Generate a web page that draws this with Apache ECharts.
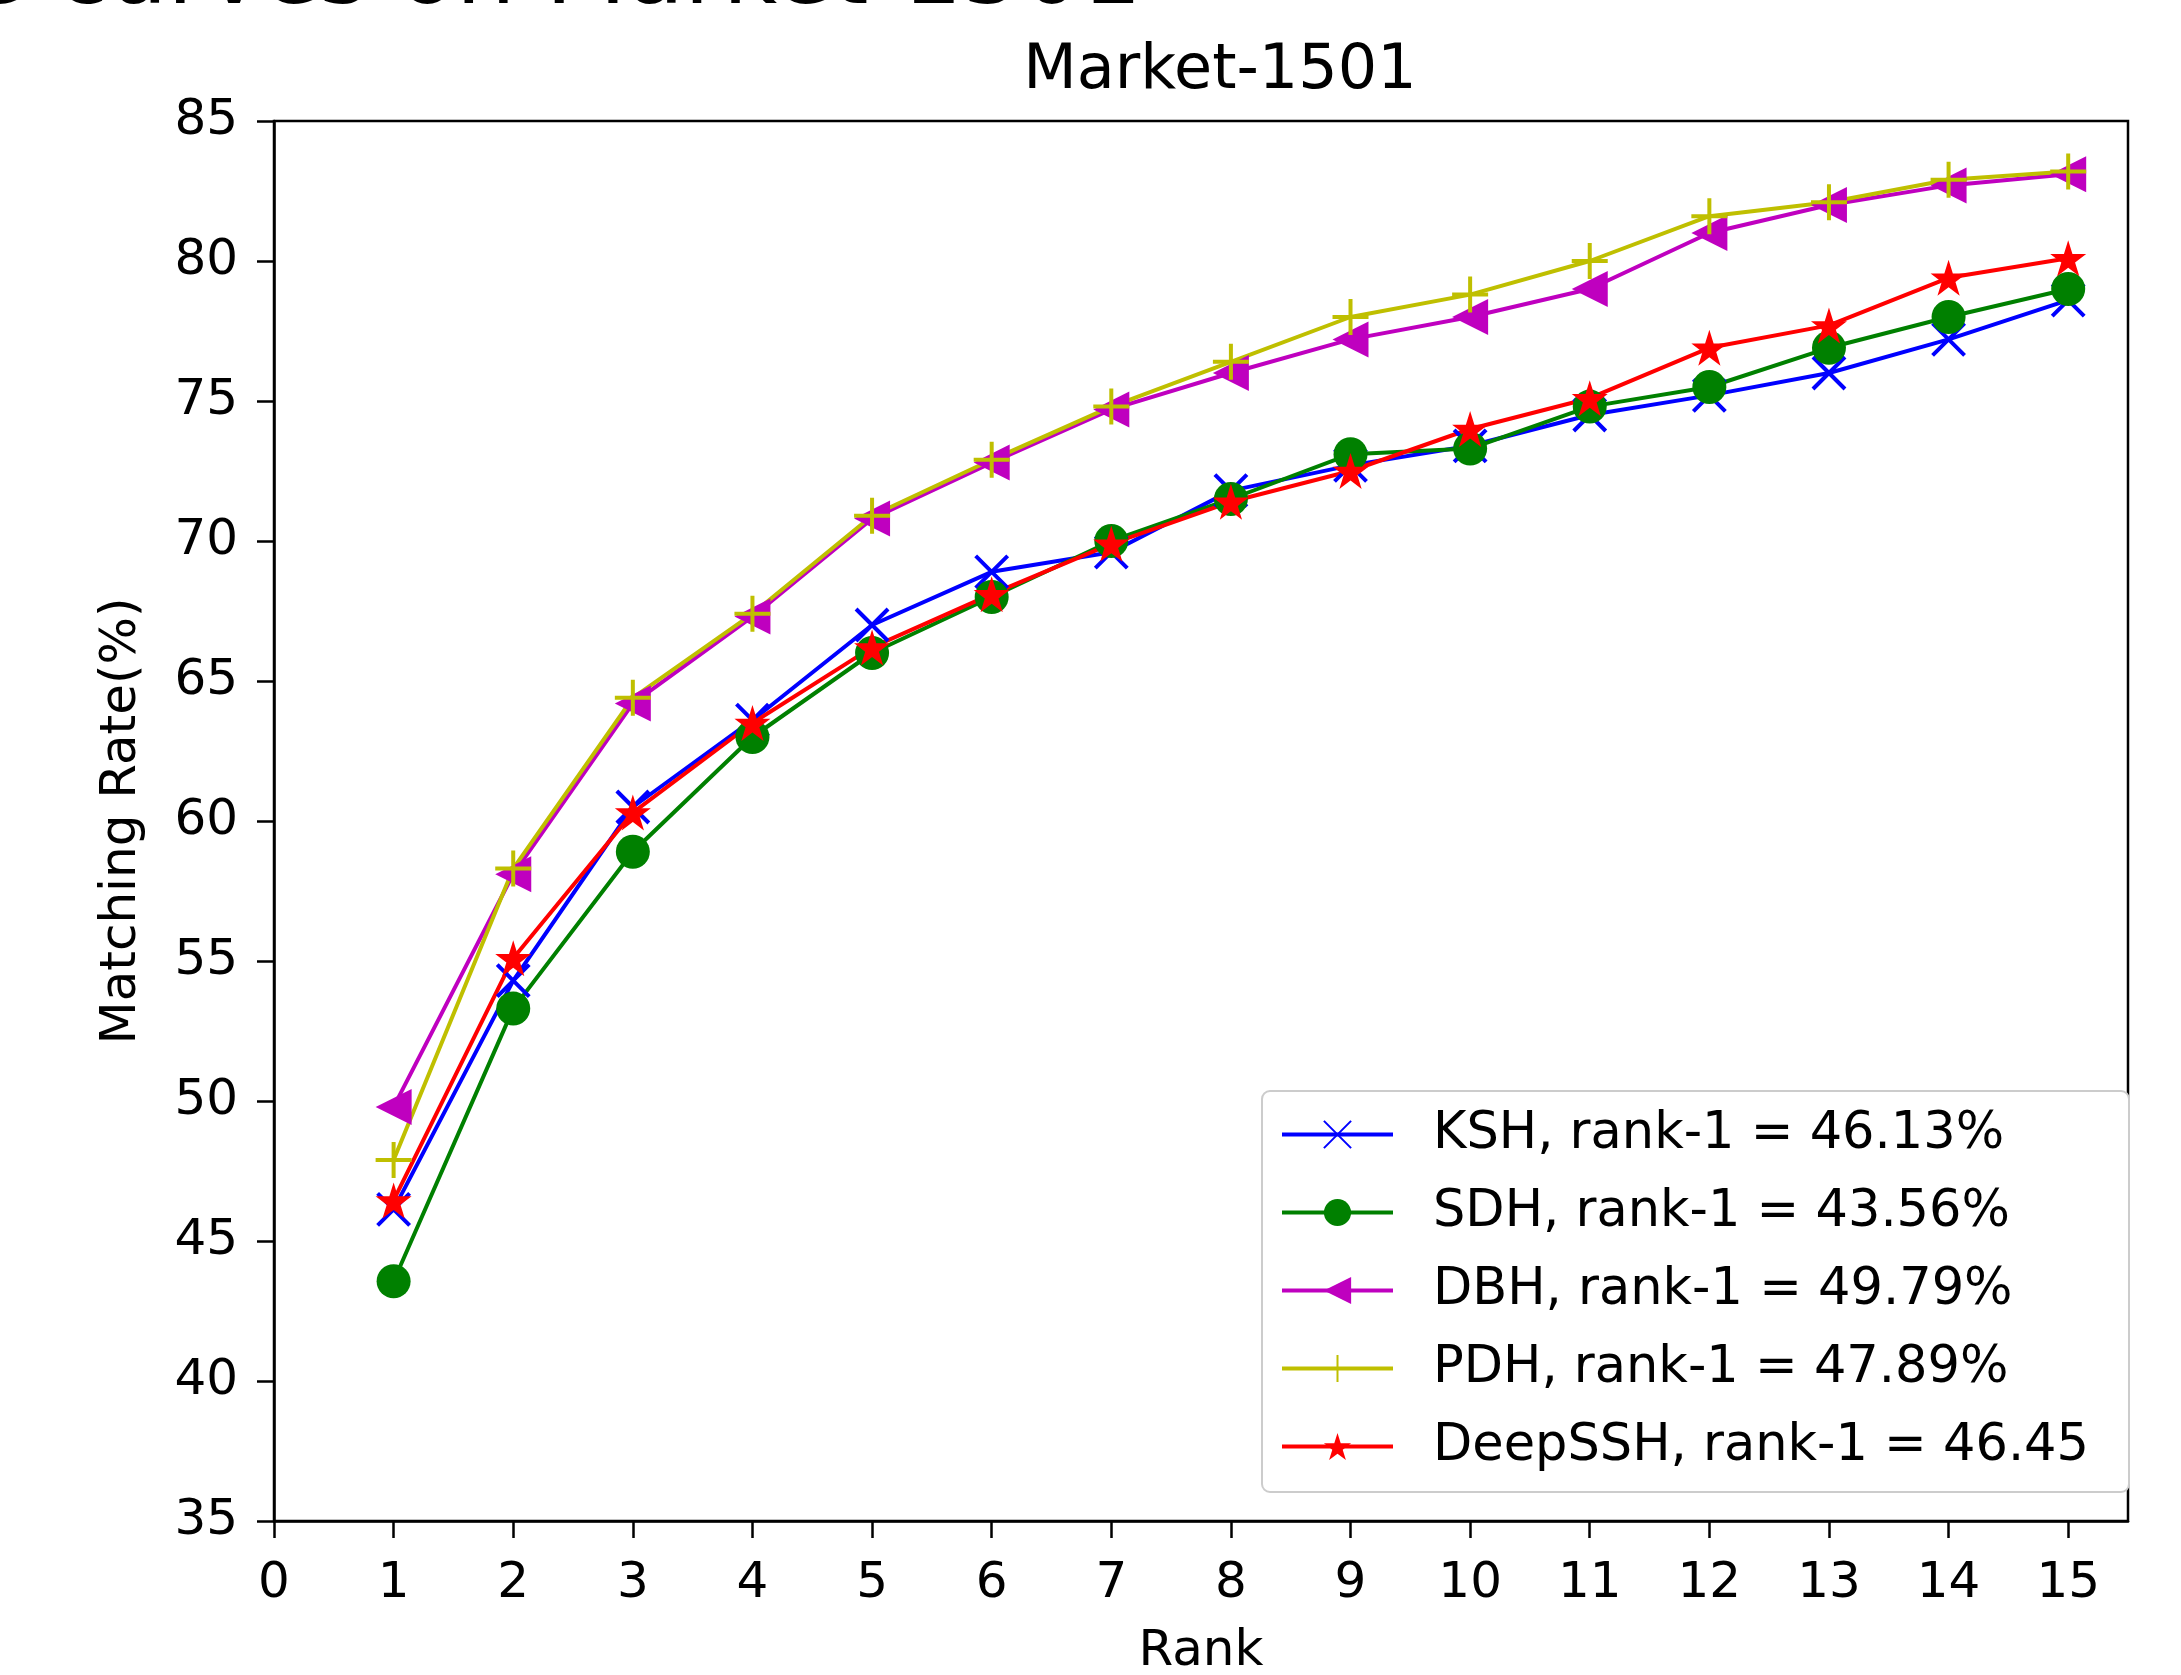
<!DOCTYPE html>
<html lang="en">
<head>
    <meta charset="UTF-8">
    <title>Market-1501</title>
    <script type="text/javascript" src="https://cdn.jsdelivr.net/npm/echarts@6.0.0/dist/echarts.min.js"></script>
    <style>
        html, body { margin: 0; padding: 0; background: #fff; }
    </style>
</head>
<body>
    <div id="main" style="width: 2181px; height: 1675px"></div>
    <script>
        // values
        var ranks = [1, 2, 3, 4, 5, 6, 7, 8, 9, 10, 11, 12, 13, 14, 15];
        var xTicks = [0, 1, 2, 3, 4, 5, 6, 7, 8, 9, 10, 11, 12, 13, 14, 15];
        var ksh = [46.13, 54.3, 60.5, 63.6, 67.0, 68.9, 69.6, 71.8, 72.7, 73.4, 74.5, 75.2, 76.0, 77.2, 78.6];
        var sdh = [43.56, 53.3, 58.9, 63.0, 66.0, 68.0, 70.0, 71.5, 73.1, 73.3, 74.8, 75.5, 76.9, 78.0, 79.0];
        var dbh = [49.79, 58.1, 64.2, 67.3, 70.8, 72.8, 74.7, 76.0, 77.2, 78.0, 79.0, 81.0, 82.0, 82.7, 83.1];
        var pdh = [47.89, 58.3, 64.4, 67.4, 70.9, 72.9, 74.8, 76.4, 78.0, 78.8, 80.0, 81.6, 82.1, 82.9, 83.2];
        var deepssh = [46.45, 55.1, 60.3, 63.5, 66.2, 68.1, 69.9, 71.4, 72.5, 74.0, 75.1, 76.9, 77.7, 79.4, 80.1];
        var names = [
            'KSH, rank-1 = 46.13%',
            'SDH, rank-1 = 43.56%',
            'DBH, rank-1 = 49.79%',
            'PDH, rank-1 = 47.89%',
            'DeepSSH, rank-1 = 46.45'
        ];

        var font = 'DejaVu Sans';
        var starPath = 'path://M50,0L61.23,34.55L97.55,34.55L68.16,55.9L79.39,90.45L50,69.1L20.61,90.45L31.84,55.9L2.45,34.55L38.77,34.55Z';

        function pairs(vals) {
            return ranks.map(function (r, i) { return [r, vals[i]]; });
        }

        function lineSeries(name, vals, color, symbol, size, stroke) {
            return {
                name: name,
                type: 'line',
                data: pairs(vals),
                symbol: symbol,
                symbolSize: size,
                showAllSymbol: true,
                lineStyle: { color: color, width: 4 },
                itemStyle: {
                    color: color,
                    borderColor: color,
                    borderWidth: stroke ? 4 : 0
                },
                emphasis: { disabled: true },
                animation: false
            };
        }

        var myChart = echarts.init(document.getElementById('main'));

        myChart.setOption({
            backgroundColor: '#fff',
            title: {
                text: 'Market-1501',
                left: 1215,
                top: 36,
                textAlign: 'center',
                textStyle: { fontFamily: font, fontSize: 62, fontWeight: 'normal', color: '#000' }
            },
            graphic: [{
                type: 'text',
                left: -186,
                top: -68,
                style: {
                    text: 'CMC curves on Market-1501',
                    fontFamily: font,
                    fontSize: 94,
                    fill: '#000'
                }
            }],
            grid: {
                left: 274,
                right: 53,
                top: 121,
                bottom: 154,
                outerBoundsMode: 'none',
                containLabel: false,
                show: true,
                borderColor: '#000',
                borderWidth: 2.5,
                backgroundColor: '#fff'
            },
            legend: {
                orient: 'vertical',
                left: 1262,
                top: 1091,
                padding: [18, 40, 20, 18],
                itemWidth: 111,
                itemHeight: 34,
                itemGap: 27,
                borderColor: '#cccccc',
                borderWidth: 2,
                borderRadius: 8,
                backgroundColor: '#fff',
                lineStyle: { width: 4 },
                textStyle: {
                    fontFamily: font,
                    fontSize: 51,
                    color: '#000',
                    padding: [0, 0, 0, 35]
                },
                data: names
            },
            xAxis: {
                type: 'value',
                min: 0,
                max: 15.5,
                name: 'Rank',
                nameLocation: 'middle',
                nameGap: 106,
                nameTextStyle: { fontFamily: font, fontSize: 50, color: '#000' },
                axisLine: { show: true, lineStyle: { color: '#000', width: 2.5 } },
                axisTick: { show: true, length: 17, customValues: xTicks, lineStyle: { color: '#000', width: 2.5 } },
                axisLabel: { customValues: xTicks, margin: 38, fontFamily: font, fontSize: 50, color: '#000' },
                splitLine: { show: false }
            },
            yAxis: {
                type: 'value',
                min: 35,
                max: 85,
                interval: 5,
                name: 'Matching Rate(%)',
                nameLocation: 'middle',
                nameGap: 127,
                nameTextStyle: { fontFamily: font, fontSize: 50, color: '#000' },
                axisLine: { show: true, lineStyle: { color: '#000', width: 2.5 } },
                axisTick: { show: true, length: 17, lineStyle: { color: '#000', width: 2.5 } },
                axisLabel: { margin: 36, fontFamily: font, fontSize: 50, color: '#000' },
                splitLine: { show: false }
            },
            series: [
                lineSeries(names[0], ksh, '#0000ff', 'path://M0,0L10,10M10,0L0,10', 32, true),
                lineSeries(names[1], sdh, '#008000', 'circle', 34, false),
                lineSeries(names[2], dbh, '#bf00bf', 'path://M0,5L10,0L10,10Z', 36, false),
                lineSeries(names[3], pdh, '#bfbf00', 'path://M5,0L5,10M0,5L10,5', 36, true),
                lineSeries(names[4], deepssh, '#ff0000', starPath, 36, false)
            ]
        });
    </script>
</body>
</html>
